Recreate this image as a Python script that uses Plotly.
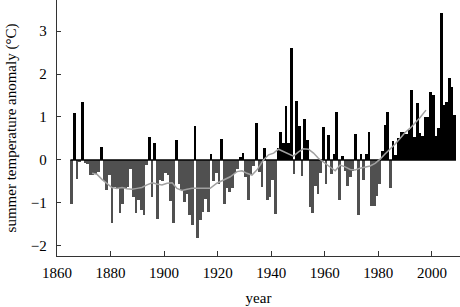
import plotly.graph_objects as go

first_year = 1865
anomaly_1865_1879 = [-1.02, 1.10, -0.44, -0.04, 1.36, -0.06, -0.10, -0.36, -0.36, -0.33,
                     -0.28, 0.31, -0.50, -0.70, -0.35]
anomaly_1880s = [-1.46, -0.62, -0.66, -1.24, -1.02, -0.66, -0.62, -0.22, -0.85, -1.24]
anomaly_1890s = [-0.93, -1.16, -1.28, -0.12, 0.54, -0.85, 0.40, -1.38, -0.47, -0.50]
anomaly_1900s = [-0.31, -0.35, -0.95, -1.46, 0.47, -0.55, -0.70, -0.97, -0.78, -1.28]
anomaly_1910s = [-1.51, 0.79, -1.82, -1.40, -1.20, -0.90, -1.22, 0.14, -0.50, -0.31]
anomaly_1920s = [-0.55, 0.48, -1.02, -0.66, -0.74, -0.66, -0.31, -0.20, 0.06, 0.17]
anomaly_1930s = [-0.39, -0.93, -0.35, -0.15, 0.87, -0.27, -0.62, 0.29, -0.93, -0.85]
anomaly_1940s = [-0.47, -1.26, 0.27, 0.64, 0.39, 1.26, 0.39, 2.60, -0.33, 1.37]
anomaly_1950s = [0.78, -0.37, 0.95, 0.47, -1.09, -1.24, -0.60, -0.78, -0.30, 0.76]
anomaly_1960s = [-0.55, 0.57, -0.33, 0.14, 1.12, -0.92, 0.09, -0.25, -0.60, -0.40]
anomaly_1970s = [-0.25, 0.60, -1.28, 0.13, -0.47, 0.13, 0.66, -1.07, -1.08, -0.84]
anomaly_1980s = [-0.55, 0.20, 0.81, 1.12, -0.64, 0.45, 0.12, 0.50, 0.66, 0.66]
anomaly_1990s = [0.60, 0.70, 1.63, 0.54, 1.32, 0.62, 0.55, 1.00, 1.00, 1.57]
anomaly_2000s = [1.51, 0.56, 0.75, 3.41, 1.28, 1.36, 1.90, 1.69, 1.05]

anomaly = (anomaly_1865_1879 + anomaly_1880s + anomaly_1890s + anomaly_1900s + anomaly_1910s
           + anomaly_1920s + anomaly_1930s + anomaly_1940s + anomaly_1950s + anomaly_1960s
           + anomaly_1970s + anomaly_1980s + anomaly_1990s + anomaly_2000s)
years = list(range(first_year, first_year + len(anomaly)))

smooth_years = [1873.1, 1874.9, 1876.8, 1878.7, 1880.5, 1882.4, 1884.3, 1886.1, 1888.0, 1889.9,
                1891.7, 1893.6, 1895.5, 1897.3, 1899.2, 1901.1, 1903.0, 1904.8, 1906.7, 1908.6,
                1910.4, 1913.5, 1917.2, 1919.7, 1922.2, 1924.7, 1927.2, 1929.1, 1930.9, 1932.8,
                1934.7, 1937.1, 1939.0, 1940.9, 1942.7, 1944.6, 1946.5, 1948.3, 1950.2, 1952.0,
                1953.9, 1955.8, 1957.6, 1960.2, 1962.0, 1963.9, 1965.7, 1967.6, 1969.5, 1971.3,
                1973.2, 1975.1, 1976.9, 1978.8, 1980.7, 1982.5, 1984.4, 1986.3, 1988.1, 1990.0,
                1991.9, 1993.7, 1995.6, 1997.8]
smooth_vals = [-0.31, -0.33, -0.45, -0.54, -0.64, -0.66, -0.64, -0.67, -0.68, -0.66,
               -0.64, -0.58, -0.53, -0.56, -0.58, -0.54, -0.53, -0.66, -0.71, -0.68,
               -0.66, -0.66, -0.66, -0.54, -0.47, -0.39, -0.27, -0.25, -0.31, -0.35,
               -0.23, 0.00, 0.12, 0.16, 0.25, 0.19, 0.14, 0.09, 0.19, 0.26,
               0.25, 0.16, 0.04, -0.08, -0.16, -0.25, -0.12, -0.16, -0.22, -0.23,
               -0.19, -0.16, -0.14, -0.08, 0.02, 0.14, 0.25, 0.37, 0.50, 0.64,
               0.74, 0.85, 0.99, 1.16]

x_ticks = [1860, 1880, 1900, 1920, 1940, 1960, 1980, 2000]
y_ticks = [-2, -1, 0, 1, 2, 3]
y_tick_labels = ["\u22122", "\u22121", "0", "1", "2", "3"]

colors = ["#000000" if v >= 0 else "#505050" for v in anomaly]

fig = go.Figure()
fig.add_trace(go.Bar(x=years, y=anomaly, marker=dict(color=colors, line=dict(width=0)),
                     offset=0, width=1, showlegend=False))
fig.add_trace(go.Scatter(x=[years[0], years[-1] + 1], y=[0, 0], mode="lines",
                         line=dict(color="#000000", width=1.3), showlegend=False))
fig.add_trace(go.Scatter(x=smooth_years, y=smooth_vals, mode="lines",
                         line=dict(color="#a0a0a0", width=1.5), showlegend=False))

font_family = "Liberation Serif, Times New Roman, serif"
fig.update_layout(
    width=460, height=307,
    margin=dict(l=57, r=0, t=0, b=51, autoexpand=False),
    paper_bgcolor="white", plot_bgcolor="white",
    bargap=0,
    font=dict(family=font_family, size=15, color="#000000"),
    xaxis=dict(range=[1860, 2010.5], tickvals=x_ticks, ticks="inside", ticklen=5,
               tickcolor="#333", showline=True, linecolor="#333", linewidth=1.2,
               showgrid=False, zeroline=False, automargin=False, ticklabelstandoff=3,
               title=dict(text="year", standoff=12, font=dict(size=15)),
               tickfont=dict(size=15)),
    yaxis=dict(range=[-2.233, 3.721], tickvals=y_ticks, ticktext=y_tick_labels,
               ticks="inside", ticklen=4, tickcolor="#333", showline=True,
               linecolor="#333", linewidth=1.2, showgrid=False, zeroline=False,
               automargin=False, ticklabelstandoff=6,
               title=dict(text="summer temperature anomaly (\u00b0C)", standoff=10,
                          font=dict(size=15)),
               tickfont=dict(size=15)),
)
fig.write_html("out.html", config={"displayModeBar": False, "staticPlot": True},
               post_script="document.body.style.margin='0';document.body.style.padding='0';")
